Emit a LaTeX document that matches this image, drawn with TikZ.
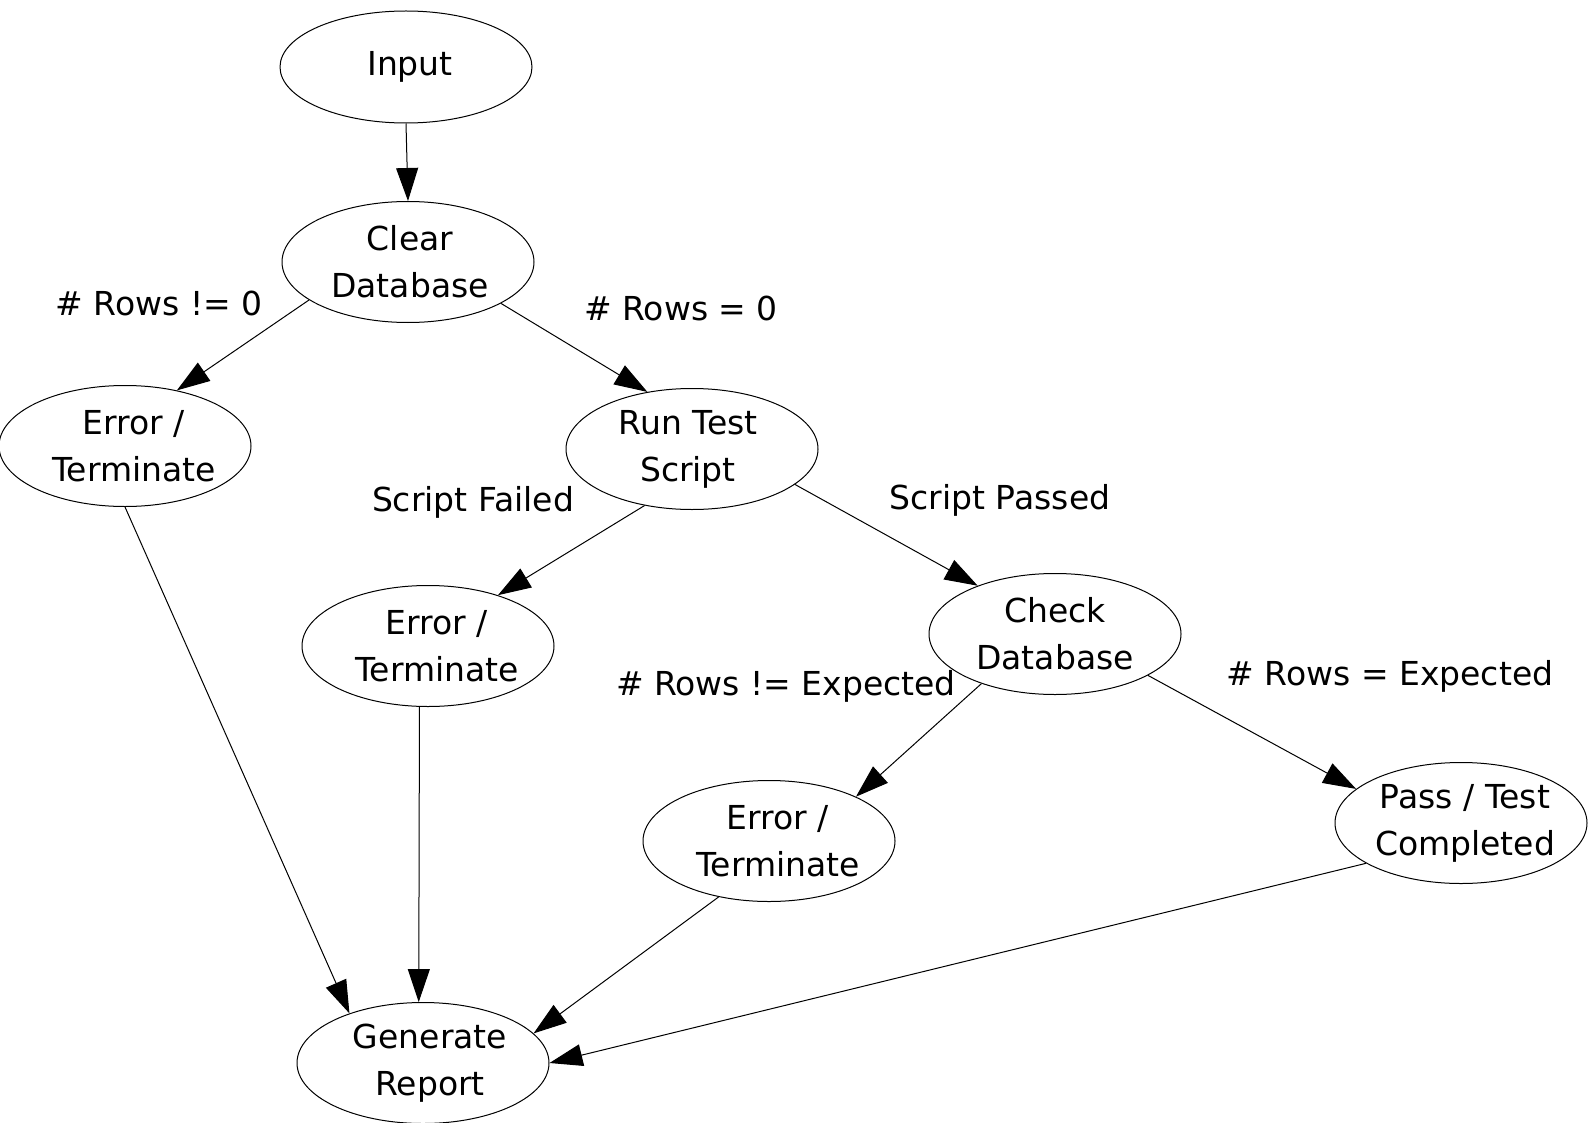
\documentclass[tikz,border=0pt]{standalone}
\usepackage{fontspec}
\setmainfont{DejaVu Sans}
\usetikzlibrary{arrows.meta,shapes.geometric}
\newcommand{\cln}[2]{\makebox[0pt]{\hspace*{#1}#2}}
\begin{document}
\begin{tikzpicture}[x=1pt,y=-1pt,
  every node/.style={font=\fontsize{33}{47}\selectfont},
  state/.style={ellipse,draw,line width=1pt,minimum width=252pt,minimum height=121pt,inner sep=0pt,align=center},
  lbl/.style={inner sep=0pt,align=center},
  edge/.style={line width=1pt,-{Triangle[length=33pt,width=22pt]}}]
\useasboundingbox (0,0) rectangle (1589,1123);
\node[state,minimum height=112pt] (in) at (406,67) {\cln{8pt}{Input}};
\node[state] (clr) at (408,262) {\cln{4pt}{Clear}\\\cln{4pt}{Database}};
\node[state] (e1) at (125,446) {\cln{18pt}{Error /}\\\cln{18pt}{Terminate}};
\node[state] (run) at (692,449) {\cln{-8pt}{Run Test}\\\cln{-8pt}{Script}};
\node[state] (e2) at (428,646) {\cln{18pt}{Error /}\\\cln{18pt}{Terminate}};
\node[state] (chk) at (1055,634) {Check\\Database};
\node[state] (e3) at (769,841) {\cln{18pt}{Error /}\\\cln{18pt}{Terminate}};
\node[state] (pass) at (1461,823) {\cln{8pt}{Pass / Test}\\\cln{8pt}{Completed}};
\node[state] (gen) at (423,1063) {\cln{14pt}{Generate}\\\cln{14pt}{Report}};

\node[lbl] (l1) at (159,303) {\# Rows != 0};
\node[lbl] (l2) at (681,308) {\# Rows = 0};
\node[lbl] (l3) at (473,502) {Script Failed};
\node[lbl] (l4) at (1000,500) {Script Passed};
\node[lbl] (l5) at (786,686) {\# Rows != Expected};
\node[lbl] (l6) at (1390,676) {\# Rows = Expected};

\draw[edge] (in.south) -- (clr.north);
\draw[edge] (clr.201) -- (e1.47);
\draw[edge] (clr.-24) -- (run.128);
\draw[edge] (e1.south) -- (gen.146);
\draw[edge] (run.230) -- (e2.36);
\draw[edge] (run.-19) -- (chk.148);
\draw[edge] (e2.262) -- (gen.94);
\draw[edge] (chk.214) -- (e3.27);
\draw[edge] (chk.-24) -- (pass.162);
\draw[edge] (e3.228) -- (gen.15);
\draw[edge] (pass.203) -- (gen.0);
\end{tikzpicture}
\end{document}
